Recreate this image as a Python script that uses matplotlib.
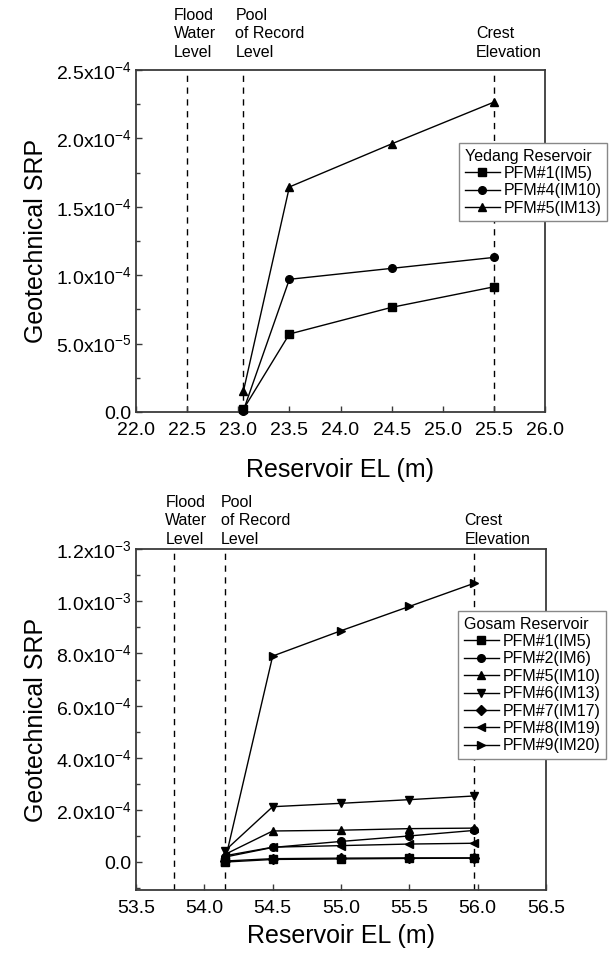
import numpy as np
import matplotlib
matplotlib.use("Agg")
import matplotlib.pyplot as plt
from matplotlib.ticker import FuncFormatter, MultipleLocator, FormatStrFormatter

plt.rcParams['font.family'] = ['Liberation Sans', 'DejaVu Sans']
plt.rcParams['mathtext.fontset'] = 'custom'
plt.rcParams['mathtext.rm'] = 'Liberation Sans'
plt.rcParams['mathtext.it'] = 'Liberation Sans:italic'
plt.rcParams['mathtext.bf'] = 'Liberation Sans:bold'

# ---------------- data ----------------
# Yedang Reservoir
yedang_x = [23.05, 23.5, 24.5, 25.5]
yedang_labels = ['PFM#1(IM5)', 'PFM#4(IM10)', 'PFM#5(IM13)']
yedang_pfm1 = [2.0e-6, 5.7e-5, 7.65e-5, 9.15e-5]
yedang_pfm4 = [1.0e-6, 9.7e-5, 1.05e-4, 1.13e-4]
yedang_pfm5 = [1.5e-5, 1.645e-4, 1.96e-4, 2.265e-4]
yedang_lines = [22.5, 23.05, 25.5]

# Gosam Reservoir
gosam_x = [54.15, 54.5, 55.0, 55.5, 55.97]
gosam_labels = ['PFM#1(IM5)', 'PFM#2(IM6)', 'PFM#5(IM10)', 'PFM#6(IM13)',
                'PFM#7(IM17)', 'PFM#8(IM19)', 'PFM#9(IM20)']
gosam_pfm1 = [1.0e-6, 1.1e-5, 1.3e-5, 1.5e-5, 1.6e-5]
gosam_pfm2 = [2.0e-5, 5.7e-5, 8.0e-5, 1.01e-4, 1.22e-4]
gosam_pfm5 = [3.0e-5, 1.2e-4, 1.23e-4, 1.29e-4, 1.31e-4]
gosam_pfm6 = [4.4e-5, 2.13e-4, 2.26e-4, 2.4e-4, 2.54e-4]
gosam_pfm7 = [5.0e-6, 1.4e-5, 1.6e-5, 1.7e-5, 1.7e-5]
gosam_pfm8 = [2.5e-5, 5.8e-5, 6.4e-5, 7.0e-5, 7.3e-5]
gosam_pfm9 = [3.0e-6, 7.9e-4, 8.87e-4, 9.8e-4, 1.068e-3]
gosam_lines = [53.78, 54.15, 55.97]

level_texts = ['Flood\nWater\nLevel', 'Pool\nof Record\nLevel', 'Crest\nElevation']

# ---------------- figure ----------------
fig = plt.figure(figsize=(6.10, 9.56), dpi=100)
ax1 = fig.add_axes([136/610, 1-412/956, (545-136)/610, (412-70)/956])
ax2 = fig.add_axes([136/610, 1-890/956, (546-136)/610, (890-549)/956])

spine_col = '#3a3a3a'


def sci_fmt(v, pos):
    if abs(v) < 1e-12:
        return '0.0'
    e = int(np.floor(np.log10(abs(v)) + 1e-9))
    m = v / 10**e
    return r'$\mathregular{%.1fx10^{%d}}$' % (m, e)


def style(ax, xlim, ylim, ymaj, ymin, xpad, lpad):
    ax.set_xlim(*xlim)
    ax.set_ylim(*ylim)
    ax.xaxis.set_major_locator(MultipleLocator(0.5))
    ax.xaxis.set_major_formatter(FormatStrFormatter('%.1f'))
    ax.yaxis.set_major_locator(MultipleLocator(ymaj))
    ax.yaxis.set_minor_locator(MultipleLocator(ymin))
    ax.yaxis.set_major_formatter(FuncFormatter(sci_fmt))
    ax.tick_params(which='both', direction='in', top=False, right=False,
                   labelsize=14, color=spine_col, width=1.0)
    ax.tick_params(which='major', length=4.5)
    ax.tick_params(axis='y', which='major', pad=3)
    ax.tick_params(axis='x', which='major', pad=xpad)
    ax.tick_params(which='minor', length=3)
    for s in ax.spines.values():
        s.set_color(spine_col)
        s.set_linewidth(1.3)
    ax.set_xlabel('Reservoir EL (m)', fontsize=18, labelpad=lpad)
    ax.set_ylabel('Geotechnical SRP', fontsize=18, labelpad=6)


def vlines(ax, xs, offsets, ytop_px):
    for xv, txt, off in zip(xs, level_texts, offsets):
        ax.axvline(xv, color='black', lw=1.0, ls=(0, (4.5, 4)), zorder=1)
        ax.annotate(txt, xy=(xv, 1.0), xycoords=ax.get_xaxis_transform(),
                    xytext=(off, ytop_px), textcoords='offset pixels',
                    ha='left', va='bottom', fontsize=11.5, linespacing=1.3)


legend_kw = dict(loc='upper left', bbox_transform=fig.transFigure,
                 borderaxespad=0, fontsize=11.5, title_fontsize=11.5, alignment='left',
                 frameon=True, fancybox=False, edgecolor='#888888', framealpha=1,
                 handlelength=2.2, handletextpad=0.25, labelspacing=0.15,
                 borderpad=0.35)

# ---- top: Yedang ----
style(ax1, (22.0, 26.0), (0.0, 2.5e-4), 5e-5, 2.5e-5, 7, 14)
vlines(ax1, yedang_lines, [-13, -8, -18], 10)
ms = 5.5
for ys, mk, lb in zip([yedang_pfm1, yedang_pfm4, yedang_pfm5], ['s', 'o', '^'], yedang_labels):
    ax1.plot(yedang_x, ys, color='black', lw=1.0, marker=mk, ms=ms, label=lb,
             clip_on=False, zorder=3)
leg1 = ax1.legend(title='Yedang Reservoir', bbox_to_anchor=(459/610, 1-143/956), **legend_kw)
leg1.get_frame().set_linewidth(1.0)

# ---- bottom: Gosam ----
style(ax2, (53.5, 56.5), (-1.06e-4, 1.2e-3), 2e-4, 1e-4, 7, 5)
vlines(ax2, gosam_lines, [-9, -4, -9], 2)
series = [gosam_pfm1, gosam_pfm2, gosam_pfm5, gosam_pfm6, gosam_pfm7, gosam_pfm8, gosam_pfm9]
markers = ['s', 'o', '^', 'v', 'D', '<', '>']
for ys, mk, lb in zip(series, markers, gosam_labels):
    ax2.plot(gosam_x, ys, color='black', lw=1.0, marker=mk,
             ms=(4.8 if mk == 'D' else ms), label=lb, zorder=3)
leg2 = ax2.legend(title='Gosam Reservoir', bbox_to_anchor=(458/610, 1-611/956), **legend_kw)
leg2.get_frame().set_linewidth(1.0)

fig.savefig('out.png', dpi=100)
